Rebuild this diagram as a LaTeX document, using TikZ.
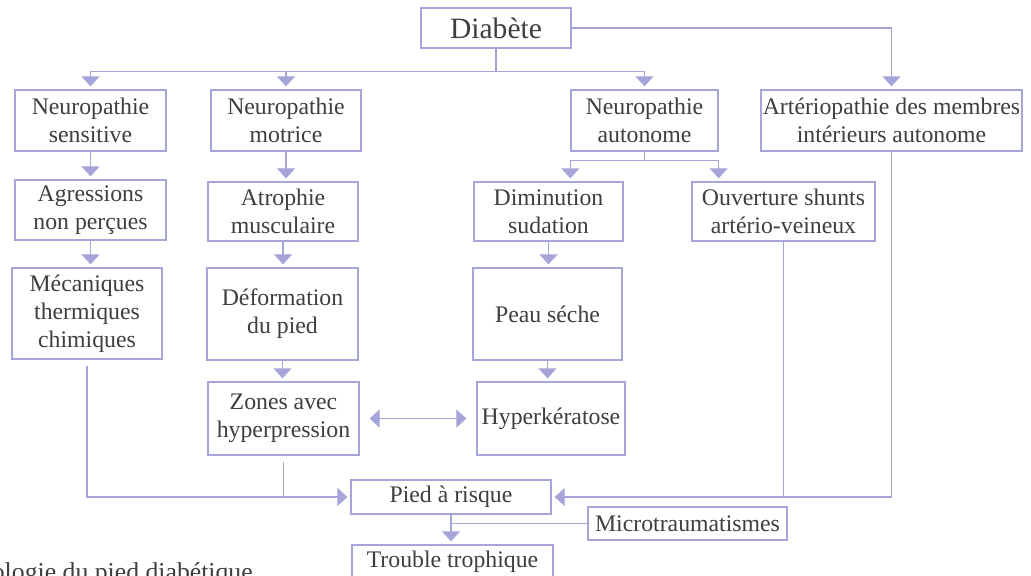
\documentclass[tikz,border=0pt]{standalone}
\usepackage{fontspec}
\setmainfont{Liberation Serif}
\usetikzlibrary{arrows.meta}
\definecolor{L}{RGB}{165,165,218}
\definecolor{T}{RGB}{62,62,62}

\tikzset{
	boite/.style={draw=L, line width=0.9pt, text=T, align=center, inner sep=1pt, font=\fontsize{16.9}{19.9}\selectfont},
	trait/.style={draw=L, line width=0.9pt},
	fleche/.style={trait, -{Triangle[width=0.45cm,length=0.25cm]}, shorten >=0.075cm},
}

\begin{document}
\begin{tikzpicture}[x=0.025cm, y=-0.025cm]
	\useasboundingbox (0,0) rectangle (1031,575);

	%Cases du haut
	\node[boite, minimum width=3.75cm, minimum height=1cm, font=\fontsize{21}{24}\selectfont] (diab) at (496,28) {Diabète};
	\node[boite, minimum width=3.775cm, minimum height=1.525cm] (nsens) at (90.5,120.5) {Neuropathie\\sensitive};
	\node[boite, minimum width=3.75cm, minimum height=1.525cm] (nmot) at (286,120.5) {Neuropathie\\motrice};
	\node[boite, minimum width=3.675cm, minimum height=1.525cm] (nauto) at (644.5,120.5) {Neuropathie\\autonome};
	\node[boite, minimum width=6.525cm, minimum height=1.525cm] (arter) at (891.5,120.5) {Artériopathie des membres\\intérieurs autonome};

	%Deuxieme rangee
	\node[boite, minimum width=3.775cm, minimum height=1.5cm] (agress) at (90.5,210) {Agressions\\non perçues};
	\node[boite, minimum width=3.75cm, minimum height=1.475cm] (atroph) at (283,211.5) {Atrophie\\musculaire};
	\node[boite, minimum width=3.725cm, minimum height=1.475cm] (dimin) at (548.5,211.5) {Diminution\\sudation};
	\node[boite, minimum width=4.575cm, minimum height=1.475cm] (ouvert) at (783.5,211.5) {Ouverture shunts\\artério-veineux};

	%Troisieme rangee
	\node[boite, minimum width=3.75cm, minimum height=2.275cm] (meca) at (87,313.5) {Mécaniques\\thermiques\\chimiques};
	\node[boite, minimum width=3.775cm, minimum height=2.3cm] (deform) at (282.5,314) {Déformation\\du pied};
	\node[boite, minimum width=3.725cm, minimum height=2.3cm] (peau) at (547.5,314) {Peau séche};

	%Quatrieme rangee
	\node[boite, minimum width=3.775cm, minimum height=1.825cm] (zones) at (283.5,418.5) {Zones avec\\hyperpression};
	\node[boite, minimum width=3.7cm, minimum height=1.825cm] (hyper) at (551,418.5) {Hyperkératose};

	%Bas
	\node[boite, minimum width=5cm, minimum height=0.85cm] (pied) at (451,497) {Pied à risque};
	\node[boite, minimum width=4.975cm, minimum height=0.825cm] (micro) at (687.5,523.5) {Microtraumatismes};
	\node[boite, minimum width=5.025cm, minimum height=0.825cm] (troub) at (452.5,561.5) {Trouble trophique};

	%Legende (coupee par le bord)
	\node[text=T, anchor=base east, inner sep=0pt, font=\fontsize{18.3}{22}\selectfont] (legende) at (253,580) {Physiopathologie du pied diabétique};

	%Diabete vers les neuropathies
	\draw[trait] (diab.south) -- ++(0,23) coordinate (bus);
	\draw[fleche] (bus) -| (nsens.north);
	\draw[fleche] (bus) -| (nmot.north);
	\draw[fleche] (bus) -| (nauto.north);
	\draw[fleche] (diab.east) -| (arter.north);

	%Fourche sous neuropathie autonome
	\draw[trait] (nauto.south) -- ++(0,9) coordinate (fourche);
	\draw[fleche] (fourche) -| (dimin.north -| nauto.west);
	\draw[fleche] (fourche) -| (ouvert.north -| nauto.east);

	%Fleches verticales
	\draw[fleche] (nsens.south) -- (nsens.south |- agress.north);
	\draw[fleche] (nmot.south) -- (nmot.south |- atroph.north);
	\draw[fleche] (agress.south) -- (agress.south |- meca.north);
	\draw[fleche] (atroph.south) -- (atroph.south |- deform.north);
	\draw[fleche] (dimin.south) -- (dimin.south |- peau.north);
	\draw[fleche] (deform.south) -- (deform.south |- zones.north);
	\draw[fleche] (peau.south) -- (peau.south |- hyper.north);

	%Zones <-> hyperkeratose
	\draw[trait, {Triangle[width=0.45cm,length=0.25cm]}-{Triangle[width=0.45cm,length=0.25cm]}, shorten <=0.25cm, shorten >=0.25cm] (zones.east) -- (hyper.west);

	%Vers pied a risque
	\draw[fleche, shorten <=0.15cm] (meca.south) |- (pied.west);
	\draw[trait, shorten <=0.15cm] (zones.south) -- (zones.south |- pied.west);
	\draw[fleche] (arter.south) |- (pied.east);
	\draw[trait] (ouvert.south) -- (ouvert.south |- pied.east);

	%Pied a risque vers trouble trophique
	\draw[fleche] (pied.south) -- (pied.south |- troub.north);
	\draw[trait] (micro.west) -- (micro.west -| pied.south);
\end{tikzpicture}
\end{document}
